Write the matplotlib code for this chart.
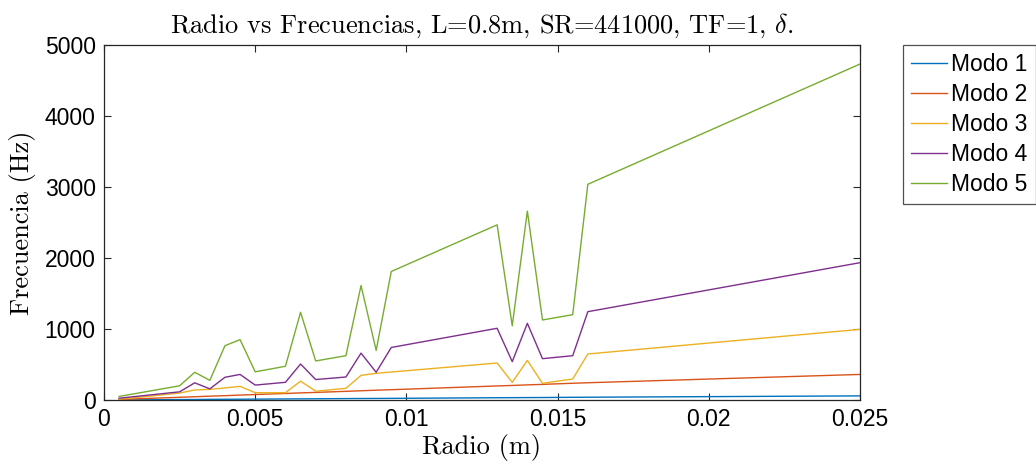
import matplotlib
matplotlib.use('Agg')
import matplotlib.pyplot as plt

plt.rcParams['mathtext.fontset'] = 'cm'
plt.rcParams['font.family'] = ['Liberation Sans', 'DejaVu Sans']

# radio de la barra (m)
radio = [0.0005, 0.0025, 0.003, 0.0035, 0.004, 0.0045, 0.005, 0.006, 0.0065,
         0.007, 0.008, 0.0085, 0.009, 0.0095, 0.013, 0.0135, 0.014, 0.0145,
         0.0155, 0.016, 0.025]

# frecuencias de cada modo (Hz)
modo1 = [1, 6, 7, 9, 10, 11, 12, 15, 16, 17, 20, 21, 22, 23, 32, 33, 34, 35,
         38, 39, 58]
modo2 = [8, 38, 46, 54, 61, 69, 77, 92, 100, 107, 122, 130, 138, 145, 198,
         205, 213, 220, 236, 243, 360]
modo3 = [10, 98, 141, 150, 170, 192, 103, 103, 265, 124, 164, 347, 376, 394,
         521, 249, 558, 235, 296, 648, 995]
modo4 = [25, 115, 242, 157, 320, 360, 210, 249, 507, 288, 324, 660, 390, 740,
         1010, 540, 1080, 582, 624, 1244, 1934]
modo5 = [50, 200, 390, 277, 765, 850, 397, 475, 1235, 550, 624, 1612, 698,
         1810, 2467, 1045, 2660, 1127, 1202, 3038, 4732]

modos = [modo1, modo2, modo3, modo4, modo5]
etiquetas = ['Modo 1', 'Modo 2', 'Modo 3', 'Modo 4', 'Modo 5']
colores = ['#0072BD', '#D95319', '#EDB120', '#7E2F8E', '#77AC30']

fig = plt.figure(figsize=(10.36, 4.7), dpi=100)
ax = fig.add_axes([104/1036, 70/470, 756/1036, 355/470])

for f, lab, c in zip(modos, etiquetas, colores):
    ax.plot(radio, f, color=c, lw=1.0, label=lab)

ax.set_xlim(0, 0.025)
ax.set_ylim(0, 5000)
ax.set_xticks([0, 0.005, 0.01, 0.015, 0.02, 0.025])
ax.set_xticklabels(['0', '0.005', '0.01', '0.015', '0.02', '0.025'])
ax.set_yticks([0, 1000, 2000, 3000, 4000, 5000])

ax.tick_params(direction='in', length=5, width=0.8, top=True, right=True,
               labelsize=16.5, colors='#262626', labelcolor='black', pad=6)
for s in ax.spines.values():
    s.set_color('#262626')
    s.set_linewidth(0.9)

ax.set_title(r'Radio vs Frecuencias, L=0.8m, SR=441000, TF=1, $\delta$.',
             fontfamily='cmr10', fontsize=19, pad=9)
ax.set_xlabel('Radio (m)', fontfamily='cmr10', fontsize=19, labelpad=2)
ax.set_ylabel('Frecuencia (Hz)', fontfamily='cmr10', fontsize=19, labelpad=6)

leg = ax.legend(loc='upper left', bbox_to_anchor=(903/1036, 1 - 45/470),
                bbox_transform=fig.transFigure, fontsize=16.5, frameon=True,
                fancybox=False, edgecolor='#262626', borderaxespad=0,
                handlelength=1.55, handletextpad=0.2, labelspacing=0.3,
                borderpad=0.35)
leg.get_frame().set_linewidth(0.9)

fig.savefig('out.png', dpi=100)
